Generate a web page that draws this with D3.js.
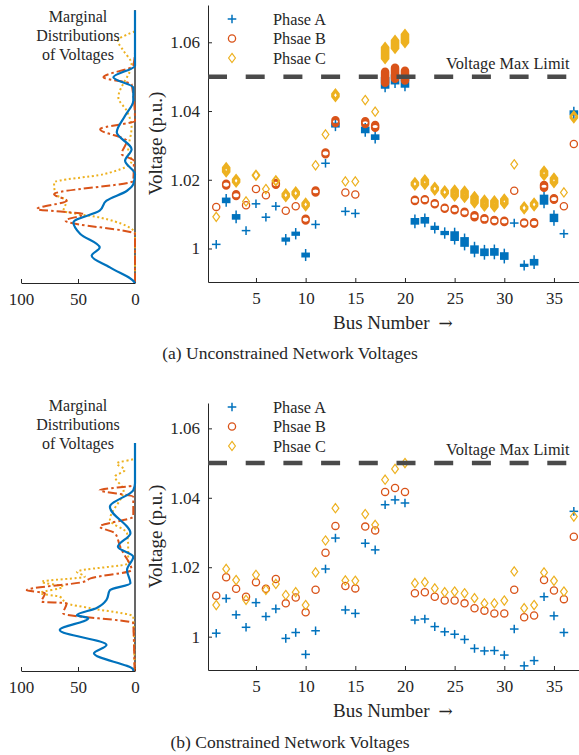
<!DOCTYPE html>
<html><head><meta charset="utf-8">
<script src="https://cdn.jsdelivr.net/npm/d3@7"></script>
<style>
body{margin:0;background:#fff;}
svg text{font-family:"Liberation Serif","Times New Roman",serif;fill:#262626;}
</style></head>
<body><svg id="c" width="579" height="755"></svg>
<script>
// ---------------- DATA ----------------
const busNumbers = [1,2,3,4,5,6,7,8,9,10,11,12,13,14,15,16,17,18,19,20,21,22,23,24,25,26,27,28,29,30,31,32,33,34,35,36,37];
const xTicks = [5,10,15,20,25,30,35];
const yTicks = [1,1.02,1.04,1.06];
const yTickLabels = ["1","1.02","1.04","1.06"];
const margTicks = [100,50,0];
const voltageLimit = 1.05;
const legendNames = ["Phase A","Phsae B","Phsae C"];

// (a) unconstrained: centre value and spread of the samples per bus
const topPhaseA = [1.0012,1.0140,1.0092,1.0052,1.0130,1.0091,1.0123,1.0026,1.0043,0.9981,1.0070,1.0248,1.0359,1.0108,1.0102,1.0345,1.0324,1.0482,1.0492,1.0485,1.0079,1.0082,1.0060,1.0045,1.0036,1.0019,0.9997,0.9989,0.9990,0.9978,1.0074,0.9951,0.9960,1.0142,1.0089,1.0043,1.0395];
const topSpreadA = [0,0.0012,0.0012,0,0,0,0,0.0008,0.0008,0.001,0,0,0.001,0,0,0.0015,0.0012,0.003,0.0025,0.003,0.0015,0.0015,0.0008,0.0008,0.0024,0.0024,0.002,0.0018,0.0018,0.0018,0,0.0005,0.0015,0.0025,0.002,0,0.001];
const topPhaseB = [1.0121,1.0186,1.0155,1.0126,1.0173,1.0155,1.0188,1.0110,1.0123,1.0084,1.0166,1.0277,1.0369,1.0163,1.0157,1.0366,1.0355,1.0498,1.0510,1.0503,1.0140,1.0142,1.0130,1.0117,1.0113,1.0105,1.0094,1.0086,1.0081,1.0079,1.0168,1.0074,1.0074,1.0181,1.0144,1.0123,1.0304];
const topSpreadB = [0,0.0005,0.0005,0,0,0,0.0005,0,0,0.0005,0.0006,0.0005,0.0008,0,0,0.0008,0.0008,0.0032,0.0032,0.0028,0.0003,0.0003,0.0003,0.0003,0.0004,0.0004,0.0006,0.0004,0.0004,0.0004,0,0.0003,0.0004,0.0008,0.0005,0,0];
const topPhaseC = [1.0092,1.0229,1.0197,1.0137,1.0213,1.0173,1.0197,1.0155,1.0161,1.0128,1.0242,1.0332,1.0446,1.0195,1.0195,1.0432,1.0398,1.0569,1.0594,1.0611,1.0188,1.0193,1.0174,1.0164,1.0161,1.0158,1.0142,1.0132,1.0130,1.0137,1.0245,1.0118,1.0128,1.0219,1.0198,1.0163,1.0383];
const topSpreadC = [0,0.0015,0.001,0,0.0003,0,0.0003,0.001,0.001,0.001,0,0,0.001,0,0,0,0,0.0035,0.0026,0.0026,0.001,0.0015,0.001,0.001,0.002,0.002,0.002,0.002,0.002,0.0015,0,0.0008,0.001,0.0015,0.0015,0,0.0008];

// (b) constrained
const botPhaseA = [1.0010,1.0110,1.0063,1.0027,1.0098,1.0058,1.0080,0.9995,1.0012,0.9949,1.0017,1.0195,1.0284,1.0077,1.0067,1.0269,1.0250,1.0380,1.0394,1.0385,1.0048,1.0051,1.0029,1.0014,1.0007,0.9992,0.9966,0.9959,0.9960,0.9947,1.0022,0.9916,0.9931,1.0115,1.0060,1.0012,1.0361];
const botPhaseB = [1.0118,1.0171,1.0138,1.0115,1.0157,1.0138,1.0166,1.0096,1.0113,1.0070,1.0135,1.0242,1.0319,1.0146,1.0139,1.0317,1.0306,1.0417,1.0428,1.0417,1.0125,1.0128,1.0115,1.0104,1.0104,1.0096,1.0082,1.0075,1.0067,1.0067,1.0135,1.0056,1.0061,1.0163,1.0133,1.0108,1.0288];
const botPhaseC = [1.0091,1.0195,1.0163,1.0106,1.0178,1.0135,1.0152,1.0120,1.0128,1.0091,1.0185,1.0277,1.0370,1.0162,1.0161,1.0353,1.0322,1.0452,1.0483,1.0500,1.0154,1.0157,1.0139,1.0128,1.0130,1.0125,1.0111,1.0096,1.0096,1.0104,1.0188,1.0082,1.0091,1.0185,1.0161,1.0130,1.0346];
const zeroSpread = [0,0,0,0,0,0,0,0,0,0,0,0,0,0,0,0,0,0,0,0,0,0,0,0,0,0,0,0,0,0,0,0,0,0,0,0,0];

// marginal distributions (voltage, density)
const topMargAV = [0.9800,0.9897,0.9945,0.9979,1.0003,1.0042,1.0076,1.0110,1.0139,1.0168,1.0187,1.0216,1.0255,1.0289,1.0338,1.0386,1.0430,1.0468,1.0498,1.0532,1.0800];
const topMargAD = [0,0,22,38,31,48,54,31,25,7,1.5,0,8.7,3,16,8.7,1.5,1.5,19,0,0];
const topMargBV = [0.9800,1.0042,1.0081,1.0100,1.0115,1.0139,1.0158,1.0197,1.0255,1.0275,1.0313,1.0347,1.0372,1.0478,1.0498,1.0532,1.0575,1.0800];
const topMargBD = [0,0,61,45,86,60,71,1.5,1,11.7,7.3,30.6,0,3,27.7,1.5,0,0];
const topMargCV = [0.9800,1.0042,1.0090,1.0110,1.0139,1.0158,1.0192,1.0216,1.0255,1.0284,1.0352,1.0401,1.0439,1.0537,1.0575,1.0605,1.0624,1.0633,1.0800];
const topMargCD = [0,0,30.6,62.7,60,70,71,27.7,3,6,3,7.3,14.6,3,10,15,6,0,0];

const botMargAV = [0.9800,0.9904,0.9952,0.9976,1.0019,1.0053,1.0062,1.0082,1.0106,1.0134,1.0154,1.0192,1.0230,1.0259,1.0298,1.0374,1.0422,1.0442,1.0700];
const botMargAD = [0,1.5,36,25,66,41,51,34,25,22,4,7,1.5,15,4,22,1.5,0,0];
const botMargBV = [0.9800,1.0039,1.0067,1.0096,1.0101,1.0125,1.0134,1.0158,1.0168,1.0192,1.0240,1.0259,1.0298,1.0317,1.0346,1.0403,1.0422,1.0437,1.0700];
const botMargBD = [0,1.5,63,60,82,79,95,45,39,3,10,13,17.5,31,1.5,1.5,31,0,0];
const botMargCV = [0.9800,1.0058,1.0082,1.0096,1.0115,1.0125,1.0144,1.0158,1.0173,1.0187,1.0211,1.0259,1.0298,1.0336,1.0422,1.0461,1.0480,1.0499,1.0514,1.0700];
const botMargCD = [0,1.5,39,60,66,83,63,82,44,51,6,6,7,22,10,17.5,9,16,0,0];

// ---------------- STYLE ----------------
const colA = "#0072BD", colB = "#D95319", colC = "#EDB120";
const svg = d3.select("#c");

function styleAxis(sel){
  sel.select(".domain").attr("stroke","#262626");
  sel.selectAll(".tick line").attr("stroke","#262626");
  sel.selectAll("text").attr("font-size",17).attr("fill","#262626").attr("font-family","Liberation Serif");
}

function panel(cfg){
  const g = svg.append("g");
  const x = d3.scaleLinear().domain([0.17, 37.52]).range([208, 579]);
  const y = d3.scaleLinear().domain(cfg.yDomain).range([cfg.yBot, cfg.yTop]);

  const ax = g.append("g").attr("transform", `translate(0,${cfg.yBot})`)
    .call(d3.axisBottom(x).tickValues(xTicks).tickSizeInner(-4).tickSizeOuter(0).tickPadding(10));
  styleAxis(ax);
  const ay = g.append("g").attr("transform", `translate(208,0)`)
    .call(d3.axisLeft(y).tickValues(yTicks).tickFormat((d,i)=>yTickLabels[i]).tickSizeInner(-4).tickSizeOuter(0).tickPadding(8));
  styleAxis(ay);

  const plot = g.append("g");
  const series = [
    {v:cfg.A, s:cfg.sA, col:colA, type:"plus"},
    {v:cfg.B, s:cfg.sB, col:colB, type:"circle"},
    {v:cfg.C, s:cfg.sC, col:colC, type:"diamond"}
  ];
  series.forEach(se=>{
    busNumbers.forEach((b,i)=>{
      drawMarker(plot, se.type, x(b), y(se.v[i] + se.s[i]/2), y(se.v[i] - se.s[i]/2), se.col);
    });
  });

  g.append("line").attr("x1",208).attr("x2",568).attr("y1",y(voltageLimit)).attr("y2",y(voltageLimit))
    .attr("stroke","#4a4a4a").attr("stroke-width",4.5).attr("stroke-dasharray","19,18.7");
  g.append("text").attr("x",446).attr("y",y(voltageLimit)-8).attr("font-size",16.3).text("Voltage Max Limit");

  const types = ["plus","circle","diamond"], cols=[colA,colB,colC];
  legendNames.forEach((n,i)=>{
    const yy = cfg.legY + i*19.5;
    drawMarker(g, types[i], 232, yy, yy, cols[i]);
    g.append("text").attr("x",273).attr("y",yy+5.5).attr("font-size",16.3).text(n);
  });

  g.append("text").attr("transform",`translate(${cfg.ylabX},${(cfg.yTop+cfg.yBot)/2}) rotate(-90)`)
    .attr("text-anchor","middle").attr("font-size",19).text("Voltage (p.u.)");
  const xl = g.append("text").attr("x",333).attr("y",cfg.yBot+47).attr("font-size",19);
  xl.append("tspan").text("Bus Number");
  xl.append("tspan").attr("dx",9).attr("font-family","DejaVu Serif").attr("font-size",17).text("\u2192");
  g.append("text").attr("x",290).attr("y",cfg.capY).attr("text-anchor","middle").attr("font-size",17.5).text(cfg.caption);

  // marginal distributions
  const mx = d3.scaleLinear().domain([0,100]).range([135,21]);
  const mg = g.append("g");
  const mAx = mg.append("g").attr("transform",`translate(0,${cfg.yBot+1})`)
    .call(d3.axisBottom(mx).tickValues(margTicks).tickSizeInner(-4).tickSizeOuter(0).tickPadding(10));
  styleAxis(mAx);
  mg.append("line").attr("x1",135).attr("x2",135).attr("y1",y(cfg.margTop)).attr("y2",cfg.yBot+1).attr("stroke","#000").attr("stroke-width",1.2);

  const clipId = "clip"+cfg.id;
  mg.append("clipPath").attr("id",clipId).append("rect").attr("x",0).attr("width",140)
    .attr("y",y(cfg.margTop)).attr("height",cfg.yBot+1-y(cfg.margTop));
  const line = d3.line().x(d=>mx(d[1])).y(d=>y(d[0])).curve(d3.curveMonotoneY);
  const curves = [
    {v:cfg.mCV,d:cfg.mCD,col:colC,dash:"2,2.6",w:2},
    {v:cfg.mBV,d:cfg.mBD,col:colB,dash:"9,3,2.5,3",w:2},
    {v:cfg.mAV,d:cfg.mAD,col:colA,dash:null,w:2.2}
  ];
  curves.forEach(c=>{
    const pts = c.v.map((v,i)=>[v,c.d[i]]);
    mg.append("path").attr("clip-path",`url(#${clipId})`).attr("d",line(pts)).attr("fill","none")
      .attr("stroke",c.col).attr("stroke-width",c.w).attr("stroke-dasharray",c.dash);
  });
  const tl = ["Marginal","Distributions","of Voltages"];
  tl.forEach((t,i)=>{
    mg.append("text").attr("x",78).attr("y",cfg.titleY+i*19.2).attr("text-anchor","middle").attr("font-size",16).text(t);
  });
}

function drawMarker(g, type, cx, yHi, yLo, col){
  const d = yLo - yHi;
  if(type==="plus"){
    const a=4.3, sw=1.5;
    g.append("line").attr("x1",cx).attr("x2",cx).attr("y1",yHi-a).attr("y2",yLo+a).attr("stroke",col).attr("stroke-width",sw);
    g.append("rect").attr("x",cx-a).attr("width",2*a).attr("y",yHi-sw/2).attr("height",d+sw).attr("fill",col);
  } else if(type==="circle"){
    const r=3.6, sw=1.3;
    if(d<0.3){
      g.append("circle").attr("cx",cx).attr("cy",(yHi+yLo)/2).attr("r",r).attr("fill","none").attr("stroke",col).attr("stroke-width",sw);
    } else {
      const R=r+sw/2, ri=r-sw/2;
      let p = `M${cx-R},${yHi}L${cx-R},${yLo}A${R},${R} 0 0 0 ${cx+R},${yLo}L${cx+R},${yHi}A${R},${R} 0 0 0 ${cx-R},${yHi}Z`;
      if(d < 2*ri){
        const h=(2*ri-d)/2, w=Math.sqrt(ri*ri-(d/2)*(d/2)), yc=(yHi+yLo)/2;
        p += `M${cx-w},${yc}A${w},${h} 0 1 0 ${cx+w},${yc}A${w},${h} 0 1 0 ${cx-w},${yc}Z`;
      }
      g.append("path").attr("d",p).attr("fill",col).attr("fill-rule","evenodd");
    }
  } else {
    const hh=4.6, hw=3.4, sw=1.2;
    if(d<0.3){
      const yc=(yHi+yLo)/2;
      g.append("path").attr("d",`M${cx},${yc-hh}L${cx+hw},${yc}L${cx},${yc+hh}L${cx-hw},${yc}Z`)
        .attr("fill","none").attr("stroke",col).attr("stroke-width",sw);
    } else {
      const H=hh+sw*0.75, Wd=hw+sw*0.75, Hi=hh-sw*0.75, Wi=hw-sw*0.75;
      let p = `M${cx},${yHi-H}L${cx+Wd},${yHi}L${cx+Wd},${yLo}L${cx},${yLo+H}L${cx-Wd},${yLo}L${cx-Wd},${yHi}Z`;
      if(d < 2*Hi){
        const hh2=Hi-d/2, ww2=Wi*hh2/Hi, yc=(yHi+yLo)/2;
        p += `M${cx},${yc-hh2}L${cx+ww2},${yc}L${cx},${yc+hh2}L${cx-ww2},${yc}Z`;
      }
      g.append("path").attr("d",p).attr("fill",col).attr("fill-rule","evenodd");
    }
  }
}

panel({id:"a", yDomain:[0.99025,1.07085], yTop:5, yBot:282, A:topPhaseA, B:topPhaseB, C:topPhaseC,
  sA:topSpreadA, sB:topSpreadB, sC:topSpreadC, legY:19, ylabX:162, capY:359,
  caption:"(a) Unconstrained Network Voltages", margTop:1.0693, titleY:22,
  mAV:topMargAV, mAD:topMargAD, mBV:topMargBV, mBD:topMargBD, mCV:topMargCV, mCD:topMargCD});
panel({id:"b", yDomain:[0.9904,1.0673], yTop:403, yBot:670, A:botPhaseA, B:botPhaseB, C:botPhaseC,
  sA:zeroSpread, sB:zeroSpread, sC:zeroSpread, legY:407, ylabX:162, capY:748,
  caption:"(b) Constrained Network Voltages", margTop:1.0558, titleY:411,
  mAV:botMargAV, mAD:botMargAD, mBV:botMargBV, mBD:botMargBD, mCV:botMargCV, mCD:botMargCD});
</script></body></html>
